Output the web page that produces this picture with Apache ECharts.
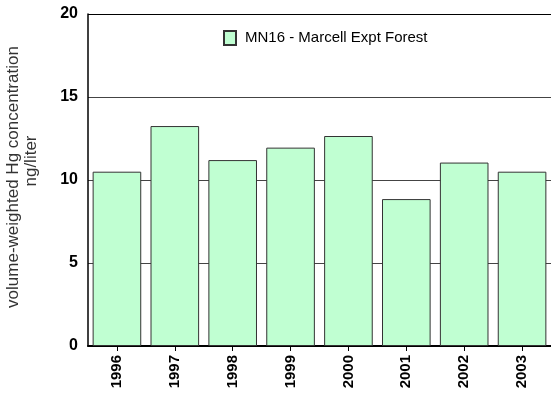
<!DOCTYPE html>
<html>
<head>
<meta charset="utf-8">
<script src="https://cdn.jsdelivr.net/npm/echarts@6/dist/echarts.min.js"></script>
<style>
  html, body { margin: 0; padding: 0; background: #fff; }
  #chart { width: 551px; height: 394px; }
</style>
</head>
<body>
<div id="chart"></div>
<script>
// Annual volume-weighted Hg concentration at site MN16
var years = ['1996', '1997', '1998', '1999', '2000', '2001', '2002', '2003'];
var concentration = [10.5, 13.25, 11.2, 11.95, 12.65, 8.85, 11.05, 10.5];
var seriesName = 'MN16 - Marcell Expt Forest';
var yTitleLines = ['volume-weighted Hg concentration', 'ng/liter'];

var FONT = '"Liberation Sans", Arial, Helvetica, sans-serif';
var chart = echarts.init(document.getElementById('chart'), null, { renderer: 'canvas' });

chart.setOption({
  animation: false,
  backgroundColor: '#ffffff',
  textStyle: { fontFamily: FONT },
  grid: { left: 88, top: 14, right: -5, bottom: 48, containLabel: false },
  legend: {
    data: [seriesName],
    left: 223,
    top: 30,
    padding: 0,
    itemWidth: 12,
    itemHeight: 14,
    icon: 'rect',
    textStyle: { fontFamily: FONT, fontSize: 15, color: '#000', padding: [0, 0, 0, 4] }
  },
  graphic: [
    {
      type: 'text', x: 13, y: 177, rotation: Math.PI / 2,
      style: { text: yTitleLines[0], font: '17px ' + FONT, fill: '#333', textAlign: 'center', textVerticalAlign: 'middle' }
    },
    {
      type: 'text', x: 31, y: 161, rotation: Math.PI / 2,
      style: { text: yTitleLines[1], font: '17px ' + FONT, fill: '#333', textAlign: 'center', textVerticalAlign: 'middle' }
    }
  ],
  xAxis: {
    type: 'category',
    data: years,
    axisLine: { show: true, lineStyle: { color: '#000', width: 2 } },
    axisTick: { show: true, alignWithLabel: true, length: 5, lineStyle: { color: '#000', width: 1 } },
    axisLabel: { rotate: 90, fontFamily: FONT, fontSize: 15, fontWeight: 'bold', color: '#000', margin: 9 },
    splitLine: { show: false }
  },
  yAxis: {
    type: 'value',
    min: 0,
    max: 20,
    interval: 5,
    axisLine: { show: true, lineStyle: { color: '#000', width: 1.5 } },
    axisTick: { show: false },
    axisLabel: { fontFamily: FONT, fontSize: 16, fontWeight: 'bold', color: '#000', margin: 10 },
    splitLine: { show: true, lineStyle: { color: ['#444', '#444', '#444', '#444', '#000'], width: 1 } }
  },
  series: [{
    name: seriesName,
    type: 'bar',
    data: concentration,
    barCategoryGap: '16%',
    itemStyle: { color: '#c0ffd2', borderColor: '#333', borderWidth: 1 }
  }]
});
</script>
</body>
</html>
